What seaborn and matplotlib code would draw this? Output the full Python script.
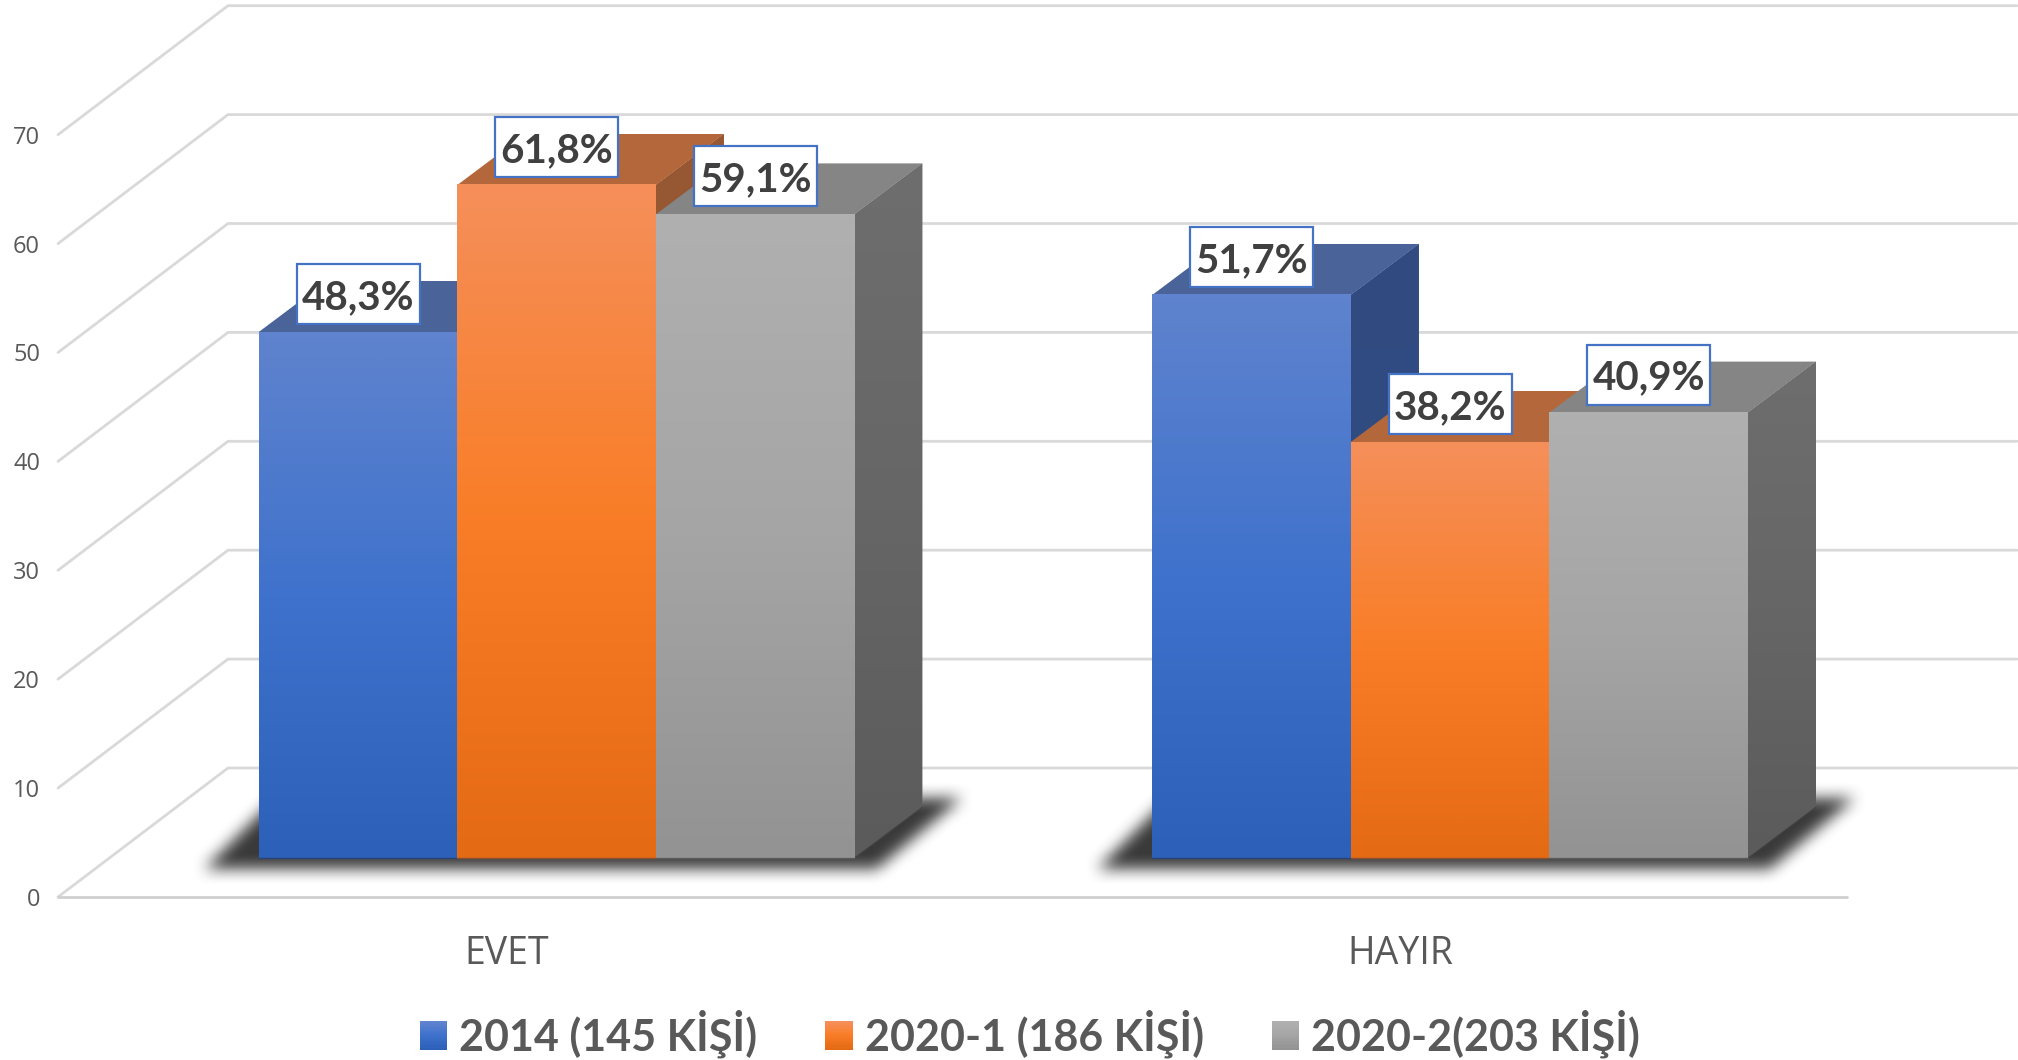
import numpy as np
import pandas as pd
import seaborn as sns
import matplotlib.pyplot as plt
from matplotlib.colors import LinearSegmentedColormap
from matplotlib.legend_handler import HandlerBase
from matplotlib.patches import Patch, Polygon, Rectangle

categories = ['EVET', 'HAYIR']
groups = ['2014 (145 KİŞİ)', '2020-1 (186 KİŞİ)', '2020-2(203 KİŞİ)']
values_2014 = [48.3, 51.7]
values_2020_1 = [61.8, 38.2]
values_2020_2 = [59.1, 40.9]
y_ticks = [0, 10, 20, 30, 40, 50, 60, 70]

front_grad = [['#5F83CE', '#3F72CC', '#2D60B8'],
              ['#F58F5A', '#F97D26', '#E56A14'],
              ['#B0B0B0', '#A5A5A5', '#939393']]
side_grad = [['#324B82', '#2F4C80', '#2A4475'],
             ['#955832', '#955832', '#8A5030'],
             ['#6E6E6E', '#666666', '#5B5B5B']]
top_cols = ['#4A6399', '#B5673C', '#858585']

# picture scale: pixels per category and per percent
PX_X = 893.5
PX_Y = 10.89
W, H = 2018, 1060
X0, Y0 = 556.6, 858   # centre of first group, foot of the bars

dep_x, dep_y = 68 / PX_X, 51 / PX_Y       # bar depth
wall_x, wall_y = 170 / PX_X, 129 / PX_Y   # floor depth
floor_y = -39 / PX_Y
floor_l = (58 - X0) / PX_X
floor_r = (1847 - X0) / PX_X

df = pd.DataFrame({
    'cevap': categories * 3,
    'oran': values_2014 + values_2020_1 + values_2020_2,
    'grup': [g for g in groups for _ in categories],
})

sns.set_theme(style='white')
plt.rcParams['font.family'] = ['Lato', 'Open Sans', 'DejaVu Sans']

fig = plt.figure(figsize=(W / 100, H / 100), dpi=100)
ax = fig.add_axes([0, 0, 1, 1])
sns.barplot(data=df, x='cevap', y='oran', hue='grup', hue_order=groups,
            palette=[g[1] for g in front_grad], width=2 / 3, gap=0, saturation=1,
            linewidth=0, legend=False, ax=ax)
ax.set_axis_off()


def grad_image(cols, x0, x1, y0, y1, z, clip=None):
    cmap = LinearSegmentedColormap.from_list('g', cols)
    im = ax.imshow(np.linspace(0, 1, 128).reshape(-1, 1), cmap=cmap, aspect='auto',
                   extent=[x0, x1, y0, y1], origin='upper', zorder=z,
                   interpolation='bilinear')
    if clip is not None:
        im.set_clip_path(clip)
    return im


def add_shadow(x0, x1):
    # soft dark parallelogram under one group of bars
    pad = 40
    span = (x1 - x0) * PX_X
    w = int(span) + 190 + 2 * pad
    h = 70 + 2 * pad
    yy, xx = np.mgrid[0:h, 0:w]
    rise = (h - pad - yy) / 70.0  # 0 at front edge, 1 at back edge
    xl = pad + rise * 70
    xr = pad + span + 76 + rise * 84
    mask = ((rise >= 0) & (rise <= 1) & (xx >= xl) & (xx <= xr)).astype(float)
    kernel = np.ones(17) / 17
    for _ in range(2):
        mask = np.apply_along_axis(lambda r: np.convolve(r, kernel, mode='same'), 0, mask)
        mask = np.apply_along_axis(lambda r: np.convolve(r, kernel, mode='same'), 1, mask)
    rgba = np.zeros((h, w, 4))
    rgba[..., :3] = 0.2
    rgba[..., 3] = mask * 0.97
    ex0 = x0 - (54 + pad) / PX_X
    ax.imshow(rgba, aspect='auto', zorder=2, interpolation='bilinear',
              extent=[ex0, ex0 + w / PX_X, (-10 - pad) / PX_Y, (60 + pad) / PX_Y])


# back wall, left wall and floor lines
for t in y_ticks:
    yf = floor_y + t
    ax.plot([floor_l, floor_l + wall_x, floor_r + wall_x],
            [yf, yf + wall_y, yf + wall_y], color='#D9D9D9', lw=2, zorder=1,
            solid_capstyle='round', solid_joinstyle='miter')
    ax.text(floor_l - 18 / PX_X, yf, str(t), ha='right', va='center_baseline', color='#595959',
            fontsize=17, family=['Open Sans', 'DejaVu Sans'], zorder=1)
ax.plot([floor_l, floor_r], [floor_y, floor_y], color='#CFCFCF', lw=2, zorder=1)

for i, cat in enumerate(categories):
    ax.text(i + floor_l + 0.5 + 2 / PX_X, floor_y - 53 / PX_Y, cat,
            ha='center', va='center_baseline', color='#595959', fontsize=27,
            family=['Open Sans', 'DejaVu Sans'])

for i in range(len(categories)):
    bars = [c.patches[i] for c in ax.containers]
    add_shadow(bars[0].get_x(), bars[-1].get_x() + bars[-1].get_width())

# each bar front, top and side; later bars cover the earlier ones
z = 3
box_w, box_h = 123 / PX_X, 60 / PX_Y
for k, cont in enumerate(ax.containers):
    for bar in cont.patches:
        x, w, v = bar.get_x(), bar.get_width(), bar.get_height()
        bar.set_zorder(z + 2)
        side = Polygon([(x + w, 0), (x + w + dep_x, dep_y), (x + w + dep_x, v + dep_y), (x + w, v)],
                       closed=True, fc=side_grad[k][1], ec='none', zorder=z)
        ax.add_patch(side)
        grad_image(side_grad[k], x + w, x + w + dep_x, 0, v + dep_y, z, clip=side)
        ax.add_patch(Polygon([(x, v), (x + dep_x, v + dep_y), (x + w + dep_x, v + dep_y), (x + w, v)],
                             closed=True, fc=top_cols[k], ec='none', zorder=z + 1))
        grad_image(front_grad[k], x, x + w, 0, v, z + 2)
        ax.plot([x + w, x + w + dep_x], [0, dep_y], color='#444444', lw=0.7, zorder=z + 1)
        ax.plot([x, x + w], [0, 0], color=side_grad[k][2], lw=1, zorder=z + 3)

        cx, cy = x + w / 2, v + 38 / PX_Y
        ax.add_patch(Rectangle((cx - box_w / 2, cy - box_h / 2), box_w, box_h, fc='white',
                               ec='#4472C4', lw=1.6, zorder=50))
        ax.text(cx, cy, f'{v:.1f}%'.replace('.', ','), ha='center', va='center_baseline',
                color='#404040', fontsize=29, fontweight='bold', zorder=51)
    z += 4


class GradHandler(HandlerBase):
    def create_artists(self, legend, orig, xd, yd, width, height, fontsize, trans):
        cmap = LinearSegmentedColormap.from_list('g', orig.grad)
        n = 14
        out = []
        for j in range(n):
            out.append(Rectangle((-xd, -yd + height * (n - 1 - j) / n), width, height / n + 0.3,
                                 fc=cmap(j / (n - 1)), ec='none', transform=trans))
        return out


handles = []
for k, g in enumerate(groups):
    p = Patch(label=g)
    p.grad = front_grad[k]
    handles.append(p)
ax.legend(handles=handles, handler_map={Patch: GradHandler()}, loc='center',
          bbox_to_anchor=(1030 / W, 1 - 1034 / H), ncol=3, frameon=False,
          prop={'size': 31, 'weight': 'bold'}, labelcolor='#595959',
          handlelength=0.63, handleheight=0.65, handletextpad=0.28, columnspacing=1.58,
          borderpad=0, borderaxespad=0)

ax.set_xlim(-X0 / PX_X, (W - X0) / PX_X)
ax.set_ylim(-(H - Y0) / PX_Y, Y0 / PX_Y)
fig.savefig('out.png', dpi=100)
